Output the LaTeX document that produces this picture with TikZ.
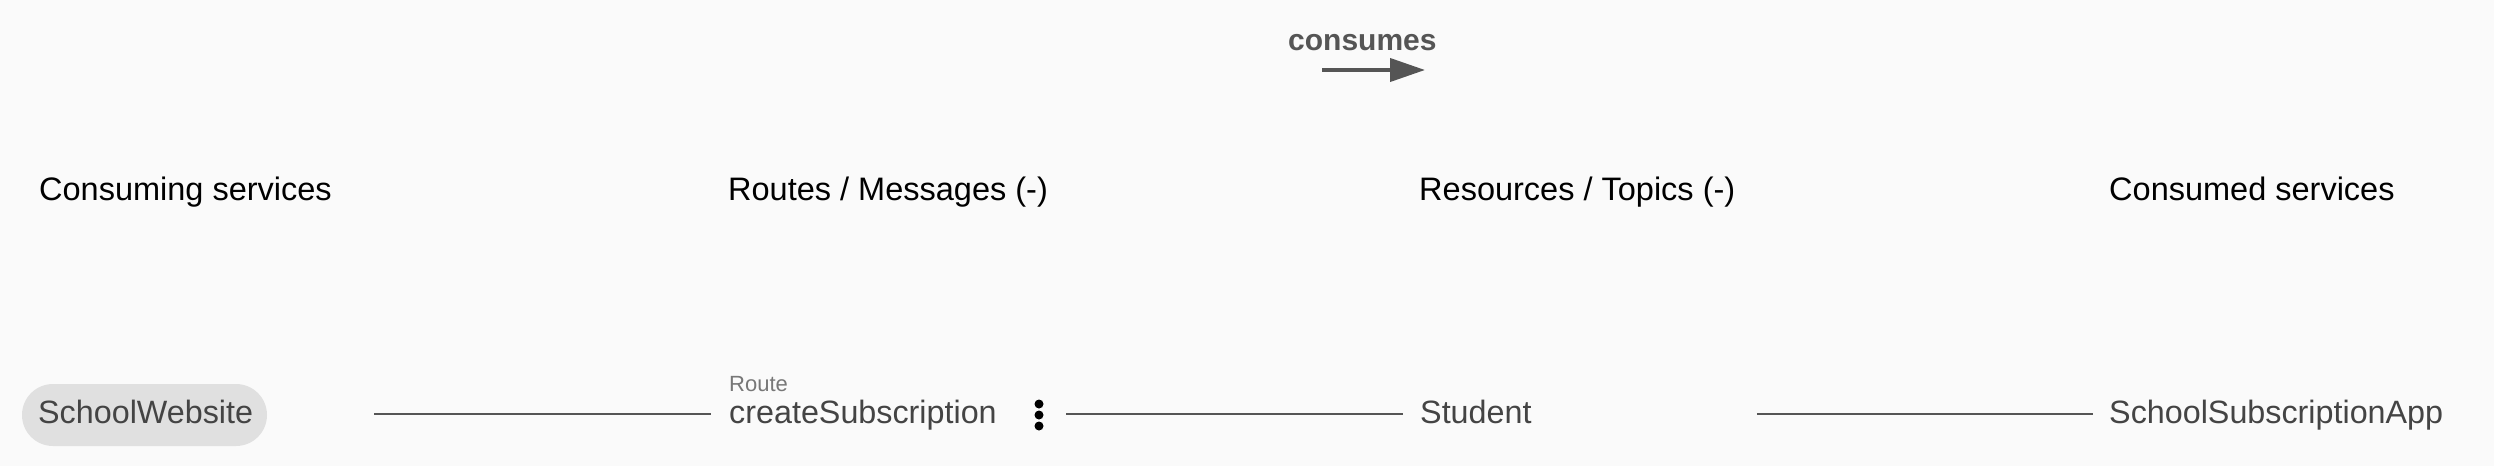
\documentclass[tikz,border=0pt]{standalone}
\usepackage{fontspec}
\setmainfont{Liberation Sans}
\usetikzlibrary{arrows.meta}
\definecolor{bg}{HTML}{FAFAFA}
\definecolor{pill}{HTML}{E0E0E0}
\definecolor{txt}{HTML}{444444}
\definecolor{lbl}{HTML}{777777}
\definecolor{legend}{HTML}{555555}
\definecolor{conn}{HTML}{555555}
\tikzset{
  header/.style={anchor=base west,inner sep=0pt,text=black,font=\fontsize{32.5}{38}\selectfont},
  item/.style={anchor=base west,inner sep=0pt,text=txt,font=\fontsize{32.3}{38}\selectfont},
  kind/.style={anchor=base west,inner sep=0pt,text=lbl,font=\fontsize{22}{26}\selectfont},
  link/.style={draw=conn,line width=2pt},
  pillbox/.style={fill=pill,rounded corners=31pt,draw=none}
}
\begin{document}
\begin{tikzpicture}[x=1pt,y=-1pt]
\fill[bg] (0,0) rectangle (2494,466);
\useasboundingbox (0,0) rectangle (2494,466);
% legend
\node[anchor=base west,inner sep=0pt,text=legend,font=\bfseries\fontsize{30}{36}\selectfont] (leg) at (1288,50) {consumes};
\coordinate (la) at (1322,70);
\coordinate (lb) at (1425,70);
\draw[draw=legend,fill=legend,line width=4pt,-{Triangle[length=35pt,width=23pt]}] (la) -- (lb);
% headers
\node[header] (h1) at (39,200) {Consuming services};
\node[header] (h2) at (728,200) {Routes / Messages (-)};
\node[header] (h3) at (1419,200) {Resources / Topics (-)};
\node[header] (h4) at (2109,200) {Consumed services};
% row
\node[pillbox,minimum width=245pt,minimum height=62pt,inner sep=0pt] (sw) at (144.5,415) {};
\node[item] (swt) at (38,423) {SchoolWebsite};
\node[kind] (rt) at (729,391) {Route};
\node[item] (cs) at (729,423) {createSubscription};
\node[inner sep=0pt,minimum width=9pt,minimum height=28pt] (menu) at (1039,415) {};
\foreach \yy in {404,415,426} \fill[black] (1039,\yy) circle (4.5pt);
\node[item] (st) at (1420,423) {Student};
\node[item] (app) at (2109,423) {SchoolSubscriptionApp};
% connectors
\draw[link,shorten <=107pt,shorten >=18pt] (sw.east |- 0,414) -- (cs.west |- 0,414);
\draw[link,shorten <=22.5pt,shorten >=17pt] (menu.east |- 0,414) -- (st.west |- 0,414);
\draw[link,shorten <=225pt,shorten >=16pt] (st.east |- 0,414) -- (app.west |- 0,414);
\end{tikzpicture}
\end{document}
